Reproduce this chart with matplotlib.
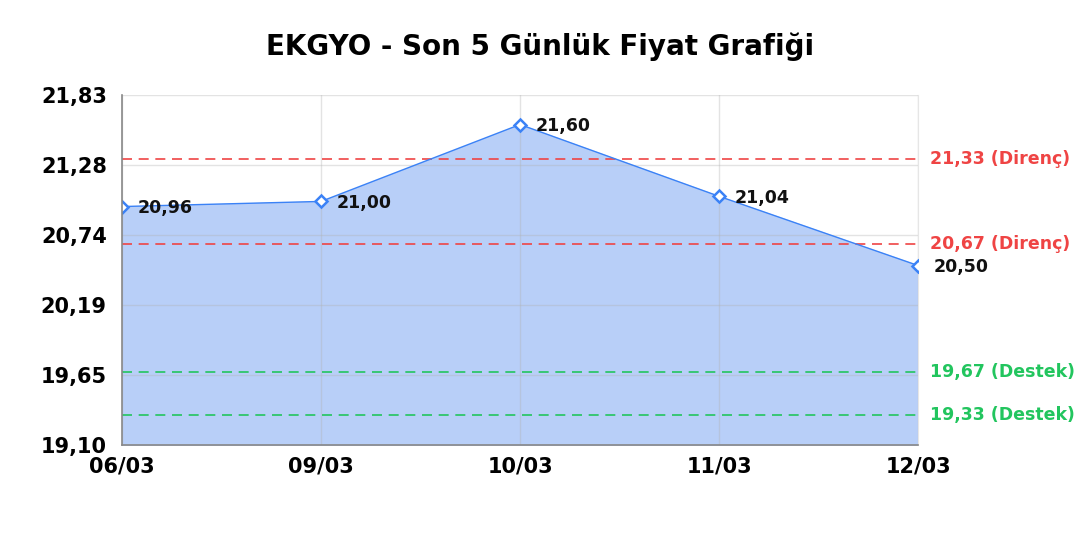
import matplotlib
matplotlib.use("Agg")
import matplotlib.pyplot as plt
import numpy as np

dates = ["06/03", "09/03", "10/03", "11/03", "12/03"]
prices = [20.96, 21.00, 21.60, 21.04, 20.50]
price_labels = ["20,96", "21,00", "21,60", "21,04", "20,50"]

resistance = [21.33, 20.67]
support = [19.67, 19.33]

y_min, y_max = 19.10, 21.83

plt.rcParams["font.family"] = "DejaVu Sans"

fig = plt.figure(figsize=(10.8, 5.4), dpi=100)
ax = fig.add_axes([0.113, 0.176, 0.737, 0.648])

x = np.arange(len(dates))
line_color = "#3b82f6"
ax.fill_between(x, prices, y_min, color="#b8cff8", zorder=1)
ax.plot(x, prices, color=line_color, linewidth=1.0, zorder=3)
ax.plot(x, prices, linestyle="none", marker="D", markersize=6,
        markerfacecolor="white", markeredgecolor=line_color, markeredgewidth=1.8, zorder=4)

for xi, p, lab in zip(x, prices, price_labels):
    ax.annotate(lab, (xi, p), xytext=(11, -1), textcoords="offset points",
                va="center", ha="left", fontsize=12.5, fontweight="bold", color="#111111", zorder=5)

# support / resistance
for level in resistance:
    ax.axhline(level, color="#ef4444", linestyle=(0, (6, 4)), linewidth=1.2, zorder=2)
    ax.annotate(f"{level:.2f}".replace(".", ",") + " (Direnç)", (1.0, level),
                xycoords=("axes fraction", "data"), xytext=(9, 0), textcoords="offset points",
                va="center", ha="left", fontsize=12.5, fontweight="bold", color="#ef4444")
for level in support:
    ax.axhline(level, color="#22c55e", linestyle=(0, (6, 4)), linewidth=1.2, zorder=2)
    ax.annotate(f"{level:.2f}".replace(".", ",") + " (Destek)", (1.0, level),
                xycoords=("axes fraction", "data"), xytext=(9, 0), textcoords="offset points",
                va="center", ha="left", fontsize=12.5, fontweight="bold", color="#22c55e")

ax.set_xlim(0, len(dates) - 1)
ax.set_ylim(y_min, y_max)
yticks = np.linspace(y_min, y_max, 6)
ax.set_yticks(yticks)
ax.set_yticklabels([f"{v:.2f}".replace(".", ",") for v in yticks], fontsize=15, fontweight="bold")
ax.set_xticks(x)
ax.set_xticklabels(dates, fontsize=15, fontweight="bold")
ax.tick_params(axis="x", length=0, pad=8)
ax.tick_params(axis="y", length=0, pad=11)

ax.grid(True, color="#b0b0b0", alpha=0.35, linewidth=1.0)
ax.set_axisbelow("line")
ax.spines["top"].set_visible(False)
ax.spines["right"].set_color("#e6e6e6")
for side in ["left", "bottom"]:
    ax.spines[side].set_color("#888888")
    ax.spines[side].set_linewidth(1.2)
    ax.spines[side].set_zorder(6)

fig.suptitle("EKGYO - Son 5 Günlük Fiyat Grafiği", fontsize=20, fontweight="bold", y=0.94)

fig.savefig("out.png", dpi=100)
